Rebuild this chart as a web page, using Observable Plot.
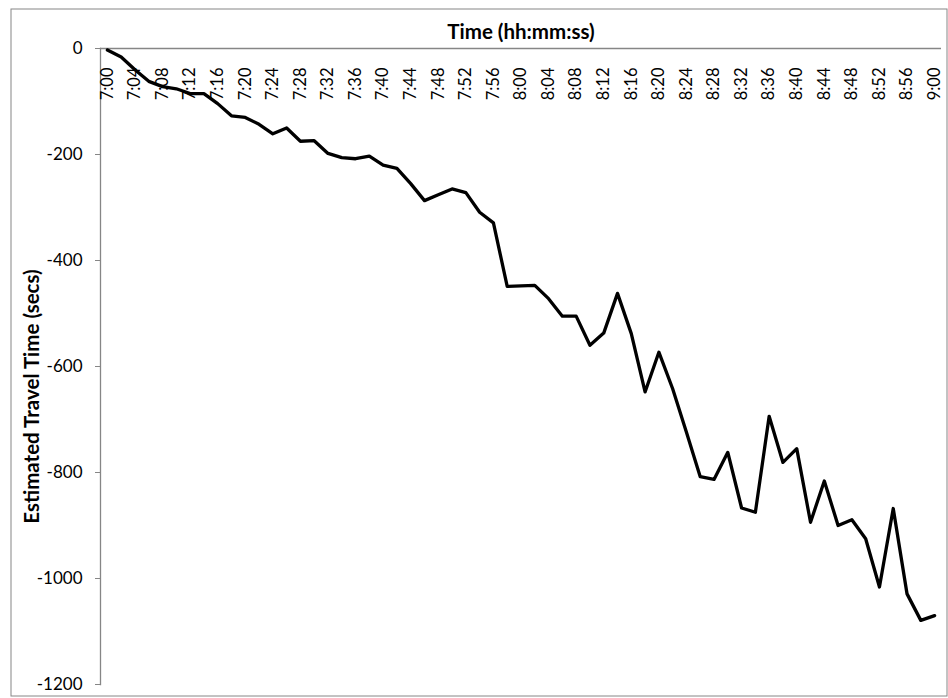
<!DOCTYPE html>
<html>
<head>
<meta charset="utf-8">
<script src="https://cdn.jsdelivr.net/npm/d3@7"></script>
<script src="https://cdn.jsdelivr.net/npm/@observablehq/plot@0.6"></script>
<style>
  html, body { margin: 0; padding: 0; background: #fff; }
  svg { display: block; }
</style>
</head>
<body>
<div id="chart"></div>
<script>
// Categories: time of day, every 2 minutes
const times = [
  "7:00","7:02","7:04","7:06","7:08","7:10","7:12","7:14","7:16","7:18",
  "7:20","7:22","7:24","7:26","7:28","7:30","7:32","7:34","7:36","7:38",
  "7:40","7:42","7:44","7:46","7:48","7:50","7:52","7:54","7:56","7:58",
  "8:00","8:02","8:04","8:06","8:08","8:10","8:12","8:14","8:16","8:18",
  "8:20","8:22","8:24","8:26","8:28","8:30","8:32","8:34","8:36","8:38",
  "8:40","8:42","8:44","8:46","8:48","8:50","8:52","8:54","8:56","8:58",
  "9:00"
];

// Estimated travel time (secs)
const travelTime = [
  -3, -16, -40, -62, -72, -76, -85, -85, -104, -127,
  -130, -143, -161, -150, -175, -174, -198, -206, -208, -203,
  -220, -226, -255, -287, -276, -265, -272, -309, -329, -449,
  -448, -447, -472, -505, -505, -560, -537, -462, -538, -648,
  -573, -642, -724, -808, -813, -762, -867, -875, -694, -781,
  -755, -894, -816, -900, -889, -925, -1016, -868, -1029, -1079,
  -1070
];

// Axis tick labels
const xTickLabels = [
  "7:00","7:04","7:08","7:12","7:16","7:20","7:24","7:28","7:32","7:36",
  "7:40","7:44","7:48","7:52","7:56","8:00","8:04","8:08","8:12","8:16",
  "8:20","8:24","8:28","8:32","8:36","8:40","8:44","8:48","8:52","8:56",
  "9:00"
];
const yTicks = [0, -200, -400, -600, -800, -1000, -1200];

const xTitle = "Time (hh:mm:ss)";
const yTitle = "Estimated Travel Time (secs)";

const data = times.map((t, i) => ({time: t, value: travelTime[i]}));

const axisGray = "#868686";
const font = "Lato, 'Open Sans', sans-serif";

const chart = Plot.plot({
  width: 948,
  height: 698,
  marginLeft: 100,
  marginRight: 7,
  marginTop: 48,
  marginBottom: 14,
  style: {fontFamily: font, background: "#fff", color: "#000", overflow: "visible"},
  x: {type: "point", domain: times, padding: 0.5, axis: null},
  y: {domain: [-1200, 0], axis: null},
  marks: [
    // outer chart border
    Plot.frame({stroke: axisGray, strokeWidth: 1, insetLeft: -89.5, insetTop: -39.5, insetRight: -5.5, insetBottom: -11.5}),
    // left axis line
    Plot.frame({anchor: "left", stroke: axisGray, strokeWidth: 1.3}),
    // horizontal axis line at y = 0
    Plot.ruleY([0], {stroke: axisGray, strokeWidth: 1.3}),
    Plot.axisY({
      ticks: yTicks,
      tickSize: 5,
      tickPadding: 13,
      tickFormat: d => String(d),
      fontSize: 17,
      stroke: axisGray,
      label: null
    }),
    // category tick labels hanging below the top axis line
    Plot.text(xTickLabels, {
      x: d => d,
      frameAnchor: "top",
      dy: 19,
      rotate: -90,
      textAnchor: "end",
      lineAnchor: "middle",
      fontSize: 16.5,
      fill: "#000"
    }),
    // data line
    Plot.line(data, {
      x: "time",
      y: "value",
      stroke: "#000",
      strokeWidth: 3.3,
      strokeLinejoin: "round"
    }),
    // axis titles
    Plot.text([xTitle], {
      frameAnchor: "top",
      dy: -16,
      textAnchor: "middle",
      lineAnchor: "middle",
      fontWeight: "bold",
      fontSize: 20.5,
      fill: "#000"
    }),
    Plot.text([yTitle], {
      frameAnchor: "left",
      dx: -68,
      dy: 30,
      rotate: -90,
      textAnchor: "middle",
      lineAnchor: "middle",
      fontWeight: "bold",
      fontSize: 20.5,
      fill: "#000"
    })
  ]
});

document.getElementById("chart").appendChild(chart);
</script>
</body>
</html>
